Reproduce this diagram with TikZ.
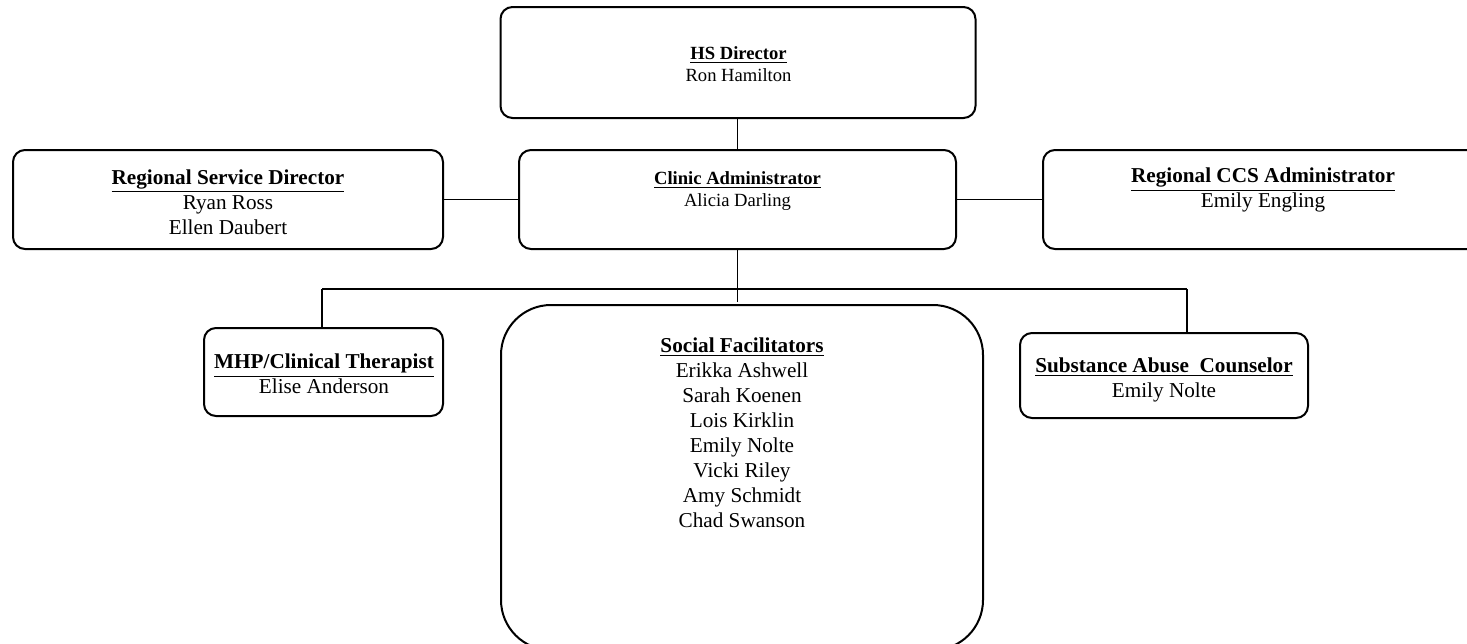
\documentclass[tikz,border=0pt]{standalone}
\usepackage{fontspec}
\setmainfont{Liberation Serif}
\usepackage{tikz}
\newcommand{\ttl}[1]{\underline{\textbf{#1}}}
\tikzset{
    %Define style for boxes
    unit/.style={
           rectangle,
           rounded corners=6pt,
           draw=black, line width=1pt,
           inner sep=0pt},
    bigunit/.style={
           unit,
           rounded corners=25pt},
    % Define style for the texts in the boxes
    staff/.style={
           align=center,
           inner sep=0pt,
           font=\fontsize{10.6}{12.5}\selectfont},
    chief/.style={
           staff,
           font=\fontsize{9.3}{11}\selectfont},
    % Define connector style
    link/.style={
           draw=black,
           line width=0.9pt}
}
\begin{document}
\begin{tikzpicture}[x=0.5pt,y=-0.5pt]
\useasboundingbox (0,0) rectangle (1467,643);
 %boxes
\node[unit, minimum width=237.5pt, minimum height=55.5pt] (hs) at (738,62.5) {};
\node[unit, minimum width=218.5pt, minimum height=49.5pt] (clinic) at (737.5,199.5) {};
\node[unit, minimum width=215pt, minimum height=49.5pt] (rsd) at (228,199.5) {};
\node[unit, minimum width=218.5pt, minimum height=49.5pt] (ccs) at (1261.5,199.5) {};
\node[unit, minimum width=119.5pt, minimum height=44pt] (mhp) at (323.5,372) {};
\node[unit, minimum width=144pt, minimum height=42.5pt] (sac) at (1164,375.5) {};
\node[bigunit, minimum width=241pt, minimum height=172.5pt] (soc) at (742,477.5) {};
 %texts
\node[chief] (hsT) at (738.5,64) {\ttl{HS Director}\\Ron Hamilton};
\node[chief] (clinicT) at (737.5,191) {\ttl{Clinic Administrator}\\Alicia Darling};
\node[staff] (rsdT) at (228,202) {\ttl{Regional Service Director}\\Ryan Ross\\Ellen Daubert};
\node[staff] (ccsT) at (1263,190) {\ttl{Regional CCS Administrator}\\Emily Engling};
\node[staff] (mhpT) at (324,374) {\ttl{MHP/Clinical Therapist}\\Elise Anderson};
\node[staff] (sacT) at (1164,379.5) {\ttl{Substance Abuse~ Counselor}\\Emily Nolte};
\node[staff] (socT) at (742,433) {\ttl{Social Facilitators}\\Erikka Ashwell\\Sarah Koenen\\Lois Kirklin\\Emily Nolte\\Vicki Riley\\Amy Schmidt\\Chad Swanson};
 %connectors
\coordinate (busL) at (322,289);
\coordinate (busR) at (1187,289);
\coordinate (drop) at (737,302);
\draw[link, line width=0.5pt] (clinic.north) -- (clinic.north |- hs.south);
\draw[link] (rsd.east) -- (clinic.west);
\draw[link] (clinic.east) -- (ccs.west);
\draw[link] (busL) -- (busR);
\draw[link] (clinic.south) -- (clinic.south |- drop);
\draw[link] (busL) -- (busL |- mhp.north);
\draw[link] (busR) -- (busR |- sac.north);
\end{tikzpicture}
\end{document}
